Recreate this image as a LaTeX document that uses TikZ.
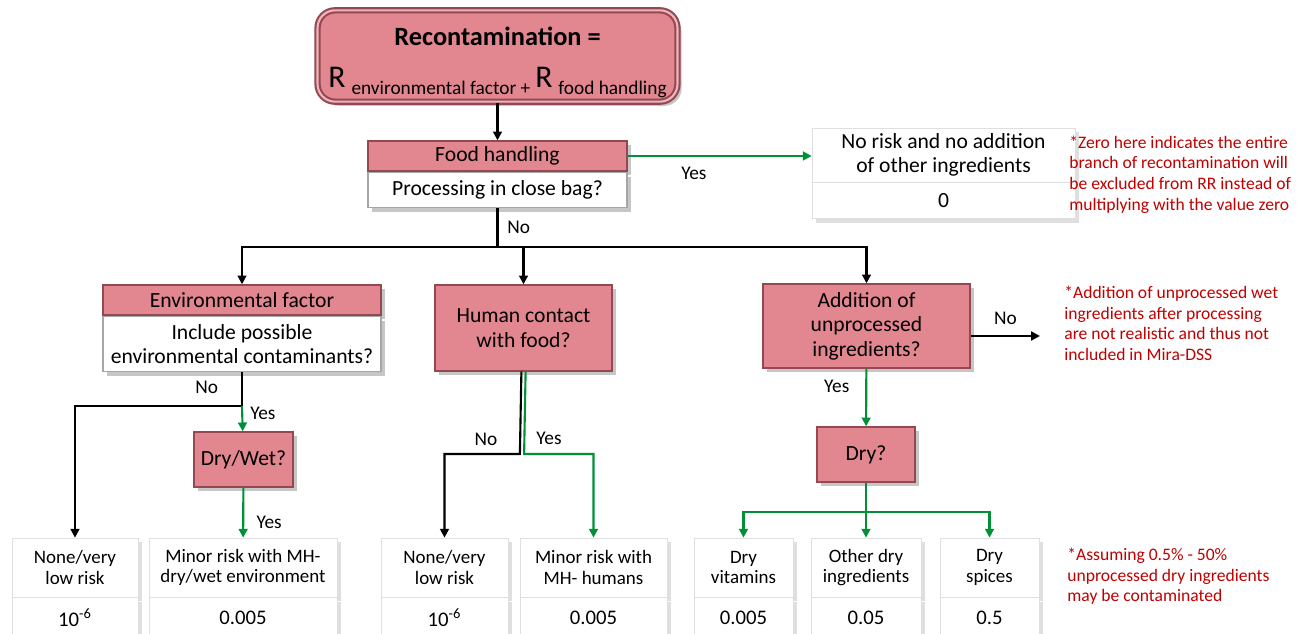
\documentclass[tikz,border=0pt]{standalone}
\usepackage{fontspec}
\setmainfont{Carlito}
\usetikzlibrary{positioning,shadows,arrows.meta}
\definecolor{boxpink}{RGB}{226,134,144}
\definecolor{boxedge}{RGB}{150,72,82}
\definecolor{notered}{RGB}{192,0,0}
\definecolor{yesgreen}{RGB}{0,145,55}
\newcommand{\bigR}[1]{{\fontsize{18}{20}\selectfont R}\;\raisebox{-0.7ex}{\fontsize{11}{13}\selectfont #1}}

\begin{document}
\begin{tikzpicture}[x=0.02cm, y=-0.02cm,
		pinkbox/.style={draw=boxedge, fill=boxpink, line width=0.8pt, align=center, inner sep=2pt,
			drop shadow={opacity=0.45}, font=\fontsize{12.3}{14}\selectfont},
		askbox/.style={draw=gray!70, fill=white, line width=0.8pt, align=center, inner sep=2pt,
			drop shadow={opacity=0.45}, font=\fontsize{12.3}{14}\selectfont},
		leafbox/.style={draw=gray!25, fill=white, align=center, inner sep=2pt,
			drop shadow={opacity=0.25}, font=\fontsize{10.8}{11.5}\selectfont},
		valbox/.style={leafbox, font=\fontsize{11.8}{13}\selectfont},
		note/.style={text=notered, align=left, anchor=west, inner sep=0pt, font=\fontsize{10}{11.7}\selectfont},
		lbl/.style={text=black, inner sep=1pt, font=\fontsize{11}{12}\selectfont},
		noline/.style={black, line width=1.2pt},
		noarrow/.style={noline, -{Triangle[length=5pt,width=5pt]}},
		yesline/.style={yesgreen, line width=1.2pt},
		yesarrow/.style={yesline, -{Triangle[length=5pt,width=5pt]}}]
		\useasboundingbox (0,0) rectangle (1305,634);
		% Draw top formula
		\node [pinkbox, rounded corners=10pt, line width=1.2pt, double=boxpink!60, double distance=1.2pt, minimum width=7.2cm, minimum height=1.7cm] (top) at (497.5,56)
			{\rule{0pt}{18pt}{\fontsize{15}{17}\selectfont\bfseries Recontamination =}\\[10pt]\bigR{environmental factor +} \bigR{food handling}};
		% Draw question boxes
		\node [pinkbox, minimum width=5.18cm, minimum height=0.6cm] (fh) at (497.5,156) {Food handling};
		\node [askbox, minimum width=5.18cm, minimum height=0.7cm, below=0pt of fh] (fhq) {Processing in close bag?};
		\node [pinkbox, minimum width=5.56cm, minimum height=0.6cm] (env) at (242,300) {Environmental factor};
		\node [askbox, minimum width=5.56cm, minimum height=1.1cm, below=0pt of env] (envq) {Include possible\\environmental contaminants?};
		\node [pinkbox, minimum width=3.54cm, minimum height=1.72cm] (hum) at (523.5,328) {Human contact\\with food?};
		\node [pinkbox, minimum width=4.14cm, minimum height=1.68cm] (add) at (866.5,326) {Addition of\\unprocessed\\ingredients?};
		\node [pinkbox, minimum width=1.98cm, minimum height=1.1cm] (drywet) at (243.5,459.5) {Dry/Wet?};
		\node [pinkbox, minimum width=1.96cm, minimum height=1.1cm] (dry) at (866,454.5) {Dry?};
		% Draw result boxes
		\node [leafbox, minimum width=5.26cm, minimum height=1.08cm, font=\fontsize{12.3}{14}\selectfont] (nr) at (943.5,155) {No risk and no addition\\of other ingredients};
		\node [valbox, minimum width=5.26cm, minimum height=0.72cm, font=\fontsize{12.3}{14}\selectfont, below=0pt of nr] (nrv) {0};
		\node [leafbox, minimum width=2.52cm, minimum height=1.18cm] (nv1) at (75,567.5) {None/very\\low risk};
		\node [valbox, minimum width=2.52cm, minimum height=0.8cm, below=0pt of nv1] (nv1v) {10\textsuperscript{-6}};
		\node [leafbox, minimum width=3.76cm, minimum height=1.18cm] (mr1) at (243,567.5) {Minor risk with MH-\\dry/wet environment};
		\node [valbox, minimum width=3.76cm, minimum height=0.8cm, below=0pt of mr1] (mr1v) {0.005};
		\node [leafbox, minimum width=2.54cm, minimum height=1.18cm] (nv2) at (444.5,567.5) {None/very\\low risk};
		\node [valbox, minimum width=2.54cm, minimum height=0.8cm, below=0pt of nv2] (nv2v) {10\textsuperscript{-6}};
		\node [leafbox, minimum width=2.94cm, minimum height=1.18cm] (mr2) at (593.5,567.5) {Minor risk with\\MH- humans};
		\node [valbox, minimum width=2.94cm, minimum height=0.8cm, below=0pt of mr2] (mr2v) {0.005};
		\node [leafbox, minimum width=1.98cm, minimum height=1.18cm] (dv) at (743.5,567.5) {Dry\\vitamins};
		\node [valbox, minimum width=1.98cm, minimum height=0.8cm, below=0pt of dv] (dvv) {0.005};
		\node [leafbox, minimum width=2.2cm, minimum height=1.18cm] (od) at (866,567.5) {Other dry\\ingredients};
		\node [valbox, minimum width=2.2cm, minimum height=0.8cm, below=0pt of od] (odv) {0.05};
		\node [leafbox, minimum width=1.98cm, minimum height=1.18cm] (ds) at (989.5,567.5) {Dry\\spices};
		\node [valbox, minimum width=1.98cm, minimum height=0.8cm, below=0pt of ds] (dsv) {0.5};
		% Draw notes
		\node [note] (note1) at (1069,174.5) {*Zero here indicates the entire\\branch of recontamination will\\be excluded from RR instead of\\multiplying with the value zero};
		\node [note] (note2) at (1064,323.5) {*Addition of unprocessed wet\\ingredients after processing\\are not realistic and thus not\\included in Mira-DSS};
		\node [note] (note3) at (1067,576.5) {*Assuming 0.5\% - 50\%\\unprocessed dry ingredients\\may be contaminated};
		% Draw branch points
		\coordinate (split) at (497.5,247);
		\coordinate (envsplit) at (242,406);
		\coordinate (humsplit) at (522,454);
		\coordinate (addno) at (1040,336);
		\coordinate (drysplit) at (866,512);
		% Draw connectors
		\draw [noarrow] (top) -- (fh);
		\draw [yesarrow] (fh.east) -- (fh.east -| nr.west) node [lbl, pos=0.36, below=5pt] {Yes};
		\draw [noline] (fhq) -- (split) node [lbl, midway, right=4pt] {No};
		\draw [noarrow] (split) -| (env);
		\draw [noarrow] (split) -| (hum);
		\draw [noarrow] (split) -| (add);
		\draw [noline] (envq) -- (envsplit) node [lbl, pos=0.45, left=12pt] {No};
		\draw [noarrow] (envsplit) -| (nv1);
		\draw [yesarrow] (envsplit) -- (drywet) node [lbl, pos=0.3, right=3pt] {Yes};
		\draw [yesarrow] (drywet) -- (mr1) node [lbl, pos=0.7, right=6pt] {Yes};
		\draw [noarrow] ([xshift=-1.2pt]hum.south) -- ([xshift=-1.2pt]humsplit) -| (nv2);
		\draw [yesarrow] ([xshift=1.2pt]hum.south) -- ([xshift=1.2pt]humsplit) -| (mr2);
		\node [lbl] (humno) at (486,439) {No};
		\node [lbl] (humyes) at (549,438) {Yes};
		\draw [noarrow] (add.east |- addno) -- (addno) node [lbl, midway, above=5pt] {No};
		\draw [yesarrow] (add) -- (dry) node [lbl, pos=0.3, left=8pt] {Yes};
		\draw [yesline] (dry) -- (drysplit);
		\draw [yesarrow] (drysplit) -| (dv);
		\draw [yesarrow] (drysplit) -- (od);
		\draw [yesarrow] (drysplit) -| (ds);
	\end{tikzpicture}
\end{document}
